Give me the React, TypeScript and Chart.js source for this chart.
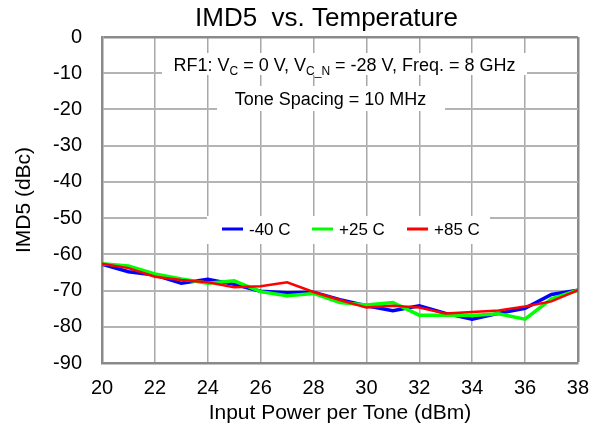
import React, { useEffect, useRef } from "react";
import { Chart, registerables } from "chart.js";

Chart.register(...registerables);

const FONT = "Arial, 'Liberation Sans', Helvetica, sans-serif";

const chartTitle = "IMD5  vs. Temperature";
const xAxisTitle = "Input Power per Tone (dBm)";
const yAxisTitle = "IMD5 (dBc)";
const noteLine2 = "Tone Spacing = 10 MHz";

const inputPower = [20, 21, 22, 23, 24, 25, 26, 27, 28, 29, 30, 31, 32, 33, 34, 35, 36, 37, 38];
const seriesLabels = ["-40 C", "+25 C", "+85 C"];
const seriesColors = ["#0000ff", "#00ff00", "#ff0000"];
const imdMinus40 = [-62.7, -64.8, -65.7, -68.0, -66.9, -68.3, -70.2, -70.6, -70.5, -72.5, -74.2, -75.6, -74.2, -76.3, -77.9, -76.3, -74.9, -71.1, -69.9];
const imdPlus25 = [-62.6, -63.2, -65.4, -66.8, -68.0, -67.3, -70.3, -71.4, -70.8, -73.3, -74.0, -73.3, -76.8, -76.8, -76.9, -76.4, -77.9, -72.3, -69.9];
const imdPlus85 = [-62.6, -63.8, -66.2, -67.1, -67.7, -69.1, -68.8, -67.7, -70.4, -72.6, -74.7, -74.2, -74.7, -76.3, -75.9, -75.5, -74.4, -73.0, -69.9];
const xMin = 20;
const xMax = 38;
const xStep = 2;
const yMin = -90;
const yMax = 0;
const yStep = 10;

const decorPlugin = {
  id: "decor",
  beforeDatasetsDraw(chart: any) {
    const ctx = chart.ctx;
    ctx.save();
    ctx.fillStyle = "#ffffff";
    // annotation boxes
    ctx.fillRect(162, 53, 365, 22);
    ctx.fillRect(217, 86, 228, 25);
    // legend box
    ctx.fillRect(207, 216, 283, 28);
    ctx.restore();
  },
  afterDatasetsDraw(chart: any) {
    const ctx = chart.ctx;
    ctx.save();
    ctx.fillStyle = "#000";
    // title
    ctx.font = `26px ${FONT}`;
    ctx.textAlign = "left";
    ctx.textBaseline = "alphabetic";
    ctx.fillText(chartTitle, 195, 26);

    // annotation line 1 with subscripts
    const segs: [string, boolean][] = [
      ["RF1: V", false],
      ["C", true],
      [" = 0 V, V", false],
      ["C_N", true],
      [" = -28 V, Freq. = 8 GHz", false],
    ];
    const mainF = `18px ${FONT}`;
    const subF = `12px ${FONT}`;
    let total = 0;
    for (const [t, sub] of segs) {
      ctx.font = sub ? subF : mainF;
      total += ctx.measureText(t).width;
    }
    let x = 344.5 - total / 2;
    for (const [t, sub] of segs) {
      ctx.font = sub ? subF : mainF;
      ctx.fillText(t, x, sub ? 75 : 71);
      x += ctx.measureText(t).width;
    }
    // annotation line 2
    ctx.font = mainF;
    ctx.textAlign = "center";
    ctx.fillText(noteLine2, 330.5, 105);

    // legend
    const items = chart.data.datasets;
    const lineStarts = [222, 312, 407];
    ctx.textAlign = "left";
    ctx.textBaseline = "middle";
    ctx.font = `17px ${FONT}`;
    items.forEach((ds: any, i: number) => {
      const lx = lineStarts[i];
      ctx.strokeStyle = ds.borderColor;
      ctx.lineWidth = 3;
      ctx.beginPath();
      ctx.moveTo(lx, 229);
      ctx.lineTo(lx + 21, 229);
      ctx.stroke();
      ctx.fillStyle = "#000";
      ctx.fillText(ds.label, lx + 27, 230);
    });
    ctx.restore();
  },
};

export default function App() {
  const ref = useRef<HTMLCanvasElement | null>(null);
  useEffect(() => {
    if (!ref.current) return;
    const mk = (arr: number[]) => inputPower.map((x, i) => ({ x, y: arr[i] }));
    const seriesData = [imdMinus40, imdPlus25, imdPlus85];
    const widths = [3.5, 3.5, 2.5];
    const orders = [2, 1, 0];
    const chart = new Chart(ref.current, {
      type: "line",
      data: {
        datasets: seriesData.map((arr, i) => ({
          label: seriesLabels[i],
          data: mk(arr),
          borderColor: seriesColors[i],
          backgroundColor: seriesColors[i],
          borderWidth: widths[i],
          order: orders[i],
          pointRadius: 0,
          tension: 0,
          fill: false,
        })),
      },
      options: {
        responsive: false,
        animation: false,
        devicePixelRatio: 1,
        layout: { padding: { top: 37, right: 24, left: 0, bottom: 0 } },
        plugins: {
          legend: { display: false },
          title: { display: false },
          tooltip: { enabled: false },
        },
        scales: {
          x: {
            type: "linear",
            min: xMin,
            max: xMax,
            ticks: {
              stepSize: xStep,
              autoSkip: false,
              maxRotation: 0,
              color: "#000",
              padding: 13,
              font: { size: 20, family: FONT },
            },
            grid: {
              color: (c: any) => (c.tick && c.tick.value === xMax ? "#8a8a8a" : "#a8a8a8"),
              lineWidth: (c: any) => (c.tick && c.tick.value === xMax ? 2.5 : 1.5),
              drawTicks: false,
            },
            border: { color: "#8a8a8a", width: 2.5 },
            title: {
              display: true,
              text: xAxisTitle,
              color: "#000",
              font: { size: 21, family: FONT },
              padding: { top: 0, bottom: 10 },
            },
            afterFit: (s: any) => {
              s.height = 73;
            },
          },
          y: {
            type: "linear",
            min: yMin,
            max: yMax,
            ticks: {
              stepSize: yStep,
              color: "#000",
              padding: 20,
              font: { size: 20, family: FONT },
            },
            grid: {
              color: (c: any) => (c.tick && c.tick.value === yMax ? "#8a8a8a" : "#b4b4b4"),
              lineWidth: (c: any) => (c.tick && c.tick.value === yMax ? 2.5 : 2),
              drawTicks: false,
            },
            border: { color: "#8a8a8a", width: 2.5 },
            title: {
              display: true,
              text: yAxisTitle,
              color: "#000",
              font: { size: 21, family: FONT },
              padding: { top: 12, bottom: 0 },
            },
            afterFit: (s: any) => {
              s.width = 102;
            },
          },
        },
      } as any,
      plugins: [decorPlugin],
    });
    return () => chart.destroy();
  }, []);
  return (
    <div style={{ position: "fixed", left: 0, top: 0, width: 602, height: 436, background: "#fff" }}>
      <canvas ref={ref} width={602} height={436} style={{ display: "block", width: 602, height: 436 }} />
    </div>
  );
}
